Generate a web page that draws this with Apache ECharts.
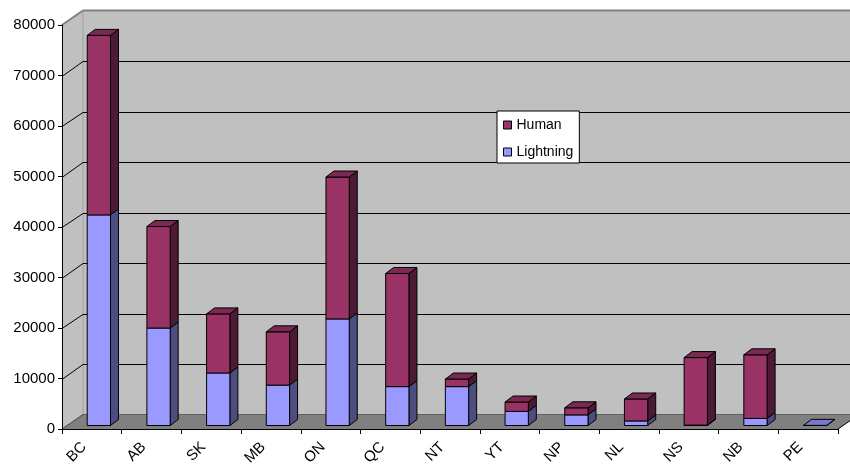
<!DOCTYPE html>
<html>
<head>
<meta charset="utf-8">
<script src="https://cdn.jsdelivr.net/npm/echarts@6/dist/echarts.min.js"></script>
<style>
  html, body { margin: 0; padding: 0; background: #ffffff; }
  #chart { width: 850px; height: 467px; }
</style>
</head>
<body>
<div id="chart"></div>
<script>
// Fires by province / territory, split by cause
const provinces = ['BC', 'AB', 'SK', 'MB', 'ON', 'QC', 'NT', 'YT', 'NP', 'NL', 'NS', 'NB', 'PE'];
const lightning = [41700, 19300, 10400, 8000, 21100, 7700, 7700, 2800, 2100, 900, 80, 1400, 30];
const human     = [35550, 20100, 11700, 10550, 28100, 22400, 1500, 1850, 1400, 4350, 13370, 12600, 0];
const valueTicks = [0, 10000, 20000, 30000, 40000, 50000, 60000, 70000, 80000];

const FONT = "'Liberation Sans', Arial, sans-serif";

// Oblique projection: depth of the walls and of each bar, in pixels
const WALL_DX = 21, WALL_DY = -14.5;
const BAR_SHIFT_X = 7, BAR_SHIFT_Y = -3.5;
const BAR_DEPTH_X = 8, BAR_DEPTH_Y = -6;
const BAR_WIDTH_RATIO = 0.39;

const HUMAN_COLORS = { front: '#993366', side: '#4d1a33', top: '#7a2952' };
const LIGHTNING_COLORS = { front: '#9999ff', side: '#4d4d80', top: '#7a7acc' };

const yMax = valueTicks[valueTicks.length - 1];

// Side wall, back wall and floor of the plot box
function renderWalls(params, api) {
  const band = api.size([1, 0])[0];
  const first = api.coord([0, 0]);
  const last = api.coord([provinces.length - 1, 0]);
  const top = api.coord([0, yMax]);
  const x0 = first[0] - band / 2;
  const x1 = last[0] + band / 2;
  const y0 = first[1];
  const yT = top[1];
  return {
    type: 'group',
    children: [
      { type: 'polygon', shape: { points: [[x0, y0], [x0, yT], [x0 + WALL_DX, yT + WALL_DY], [x0 + WALL_DX, y0 + WALL_DY]] },
        style: { fill: '#c0c0c0', stroke: null } },
      { type: 'rect', shape: { x: x0 + WALL_DX, y: yT + WALL_DY, width: x1 - x0, height: y0 - yT },
        style: { fill: '#c0c0c0', stroke: null } },
      { type: 'polygon', shape: { points: [[x0, y0], [x0 + WALL_DX, y0 + WALL_DY], [x1 + WALL_DX, y0 + WALL_DY], [x1, y0]] },
        style: { fill: '#808080', stroke: null } },
      // outline of the walls
      { type: 'polyline', shape: { points: [[x0, yT], [x0 + WALL_DX, yT + WALL_DY], [x1 + WALL_DX, yT + WALL_DY]] },
        style: { fill: null, stroke: '#808080', lineWidth: 2 } },
      { type: 'line', shape: { x1: x0 + WALL_DX, y1: yT + WALL_DY, x2: x0 + WALL_DX, y2: y0 + WALL_DY },
        style: { stroke: '#a0a0a0', lineWidth: 1 } },
      { type: 'line', shape: { x1: x0, y1: y0, x2: x0 + WALL_DX, y2: y0 + WALL_DY },
        style: { stroke: '#404040', lineWidth: 1 } },
      { type: 'line', shape: { x1: x0 + WALL_DX, y1: y0 + WALL_DY, x2: x1 + WALL_DX, y2: y0 + WALL_DY },
        style: { stroke: '#606060', lineWidth: 1 } },
      { type: 'line', shape: { x1: x1, y1: y0, x2: x1 + WALL_DX, y2: y0 + WALL_DY },
        style: { stroke: '#000000', lineWidth: 1 } }
    ]
  };
}

// Gridlines: across the back wall and diagonally over the side wall
function renderGrid(params, api) {
  const v = api.value(1);
  if (v <= 0 || v >= yMax) return { type: 'group', children: [] };
  const band = api.size([1, 0])[0];
  const p = api.coord([0, v]);
  const last = api.coord([provinces.length - 1, v]);
  const x0 = p[0] - band / 2;
  const x1 = last[0] + band / 2;
  const yFront = Math.round(p[1]) + 0.5;
  const yBack = Math.round(p[1] + WALL_DY) + 0.5;
  return {
    type: 'group',
    children: [
      { type: 'line', shape: { x1: x0, y1: yFront, x2: x0 + WALL_DX, y2: yBack },
        style: { stroke: '#000', lineWidth: 1 } },
      { type: 'line', shape: { x1: x0 + WALL_DX, y1: yBack, x2: x1 + WALL_DX, y2: yBack },
        style: { stroke: '#000', lineWidth: 1 } }
    ]
  };
}

// One stacked block with front, side and (optionally) top faces
function block(api, idx, lo, hi, colors, withTop) {
  const band = api.size([1, 0])[0];
  const w = band * BAR_WIDTH_RATIO;
  const pLo = api.coord([idx, lo]);
  const pHi = api.coord([idx, hi]);
  const xl = pLo[0] - w / 2 + BAR_SHIFT_X;
  const xr = xl + w;
  const yb = pLo[1] + BAR_SHIFT_Y;
  const yt = pHi[1] + BAR_SHIFT_Y;
  const edge = { stroke: '#000', lineWidth: 1, lineJoin: 'round' };
  const kids = [
    { type: 'polygon', shape: { points: [[xr, yb], [xr + BAR_DEPTH_X, yb + BAR_DEPTH_Y], [xr + BAR_DEPTH_X, yt + BAR_DEPTH_Y], [xr, yt]] },
      style: Object.assign({ fill: colors.side }, edge) },
    { type: 'rect', shape: { x: xl, y: yt, width: w, height: yb - yt },
      style: Object.assign({ fill: colors.front }, edge) }
  ];
  if (withTop) {
    kids.push({ type: 'polygon', shape: { points: [[xl, yt], [xr, yt], [xr + BAR_DEPTH_X, yt + BAR_DEPTH_Y], [xl + BAR_DEPTH_X, yt + BAR_DEPTH_Y]] },
      style: Object.assign({ fill: colors.top }, edge) });
  }
  return kids;
}

function renderLightning(params, api) {
  const idx = api.value(0), l = api.value(1), h = api.value(2);
  return { type: 'group', children: block(api, idx, 0, l, LIGHTNING_COLORS, !(h > 0)) };
}

function renderHuman(params, api) {
  const idx = api.value(0), l = api.value(1), h = api.value(2);
  if (!(h > 0)) return { type: 'group', children: [] };
  return { type: 'group', children: block(api, idx, l, l + h, HUMAN_COLORS, true) };
}

const barData = provinces.map((p, i) => [i, lightning[i], human[i]]);

const chart = echarts.init(document.getElementById('chart'), null, { renderer: 'canvas' });
chart.setOption({
  animation: false,
  backgroundColor: '#ffffff',
  textStyle: { fontFamily: FONT },
  grid: { left: 62, right: 12, top: 25, bottom: 38, containLabel: false, outerBoundsMode: 'none' },
  legend: {
    data: ['Human', 'Lightning'],
    orient: 'vertical',
    left: 497,
    top: 111,
    itemWidth: 8,
    itemHeight: 8,
    itemGap: 13,
    padding: [7, 6, 4, 6],
    icon: 'rect',
    backgroundColor: '#ffffff',
    borderColor: '#000000',
    borderWidth: 1,
    itemStyle: { borderColor: '#000', borderWidth: 1 },
    textStyle: { fontSize: 14, color: '#000', fontFamily: FONT },
    selectedMode: false
  },
  xAxis: {
    type: 'category',
    data: provinces,
    z: 10,
    axisLine: { show: true, lineStyle: { color: '#000', width: 1 } },
    axisTick: { show: true, length: 5, lineStyle: { color: '#000' } },
    axisLabel: { rotate: 45, fontSize: 15, color: '#000', margin: 8, padding: [0, 11, 0, 0], fontFamily: FONT },
    splitLine: { show: false }
  },
  yAxis: {
    type: 'value',
    min: 0,
    max: yMax,
    interval: 10000,
    z: 10,
    axisLine: { show: true, lineStyle: { color: '#000', width: 1 } },
    axisTick: { show: true, length: 4, lineStyle: { color: '#000' } },
    axisLabel: { fontSize: 15, color: '#000', margin: 7, fontFamily: FONT, formatter: v => String(v) },
    splitLine: { show: false }
  },
  series: [
    { name: 'walls', type: 'custom', z: 1, silent: true, renderItem: renderWalls, data: [[0, 0]] },
    { name: 'grid', type: 'custom', z: 2, silent: true, renderItem: renderGrid,
      data: valueTicks.map(v => [0, v]) },
    { name: 'Lightning', type: 'custom', z: 3, renderItem: renderLightning,
      itemStyle: { color: LIGHTNING_COLORS.front }, encode: { x: 0, y: 1 }, data: barData },
    { name: 'Human', type: 'custom', z: 4, renderItem: renderHuman,
      itemStyle: { color: HUMAN_COLORS.front }, encode: { x: 0, y: 2 }, data: barData }
  ]
});
</script>
</body>
</html>
